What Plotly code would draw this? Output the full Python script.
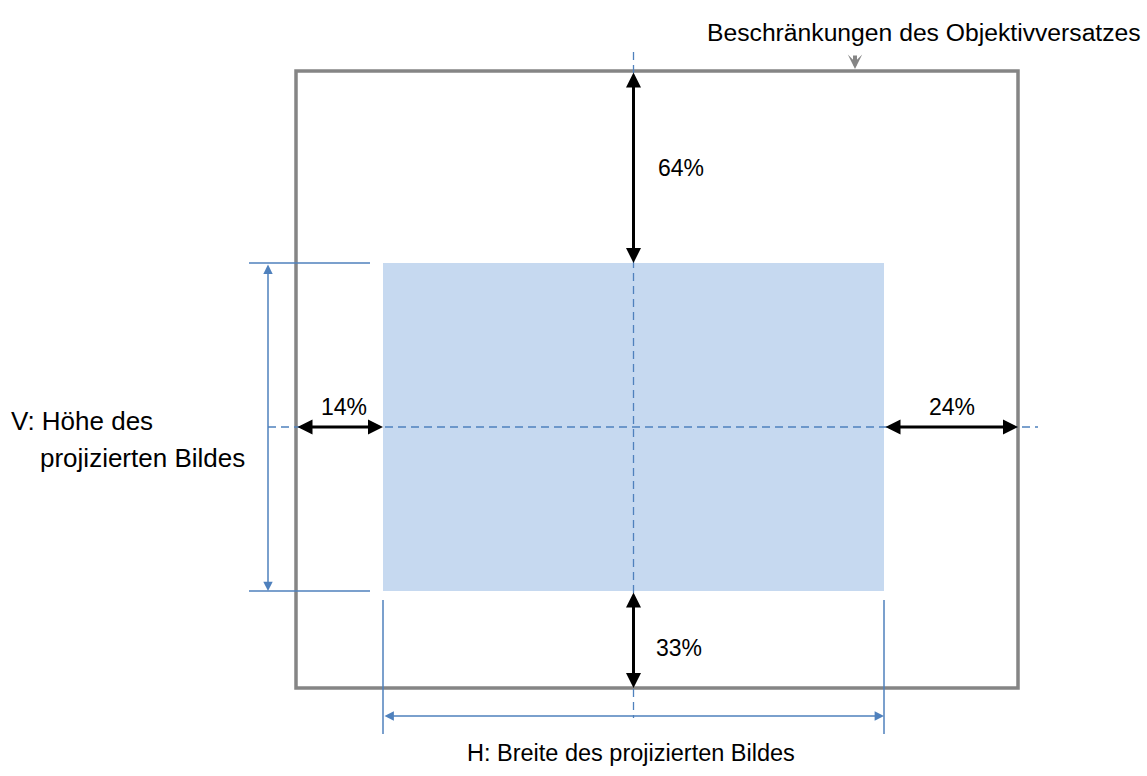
import plotly.graph_objects as go

# ---- diagram data (schematic units = canvas units) ----
shift_labels = ["64%", "14%", "24%", "33%"]          # up, left, right, down
shift_names = ["up", "left", "right", "down"]
image_box = {"x0": 383, "x1": 884, "y0": 263, "y1": 591}     # projected image
frame_box = {"x0": 296, "x1": 1018, "y0": 71, "y1": 688}     # lens shift limits
title_text = "Beschränkungen des Objektivversatzes"
v_label = ["V: Höhe des", "projizierten Bildes"]
h_label = "H: Breite des projizierten Bildes"

W, H = 1147, 776
BLUE = "#4F81BD"
FILL = "#C6D9F0"
GRAY = "#858585"
FAM = "Liberation Sans, Arial, sans-serif"

def font(sz):
    return dict(family=FAM, size=sz, color="#000000")

cx = (image_box["x0"] + image_box["x1"]) / 2
cy = (image_box["y0"] + image_box["y1"]) / 2

fig = go.Figure()
shapes = []
ann = []

# projected image
shapes.append(dict(type="rect", xref="x", yref="y", x0=image_box["x0"], x1=image_box["x1"],
                   y0=image_box["y0"], y1=image_box["y1"], fillcolor=FILL,
                   line=dict(width=0), layer="below"))
# frame
shapes.append(dict(type="rect", xref="x", yref="y", x0=frame_box["x0"], x1=frame_box["x1"],
                   y0=frame_box["y0"], y1=frame_box["y1"], fillcolor="rgba(0,0,0,0)",
                   line=dict(color=GRAY, width=3.5)))
# center dashed lines
dash = dict(color=BLUE, width=1.3, dash="8px,5px")
shapes.append(dict(type="line", xref="x", yref="y", x0=cx, x1=cx, y0=frame_box["y0"] - 19,
                   y1=frame_box["y1"] + 30, line=dash))
shapes.append(dict(type="line", xref="x", yref="y", x0=frame_box["x0"] - 28, x1=frame_box["x1"] + 20,
                   y0=cy, y1=cy, line=dash))

# V dimension extension lines
for yv in (image_box["y0"], image_box["y1"]):
    shapes.append(dict(type="line", xref="x", yref="y", x0=249, x1=370, y0=yv, y1=yv,
                       line=dict(color=BLUE, width=1.5)))
# H dimension extension lines
for xv in (image_box["x0"], image_box["x1"]):
    shapes.append(dict(type="line", xref="x", yref="y", x0=xv, x1=xv,
                       y0=image_box["y1"] + 9, y1=image_box["y1"] + 143,
                       line=dict(color=BLUE, width=1.5)))

def darrow(x0, y0, x1, y1, color, width, head, size):
    ann.append(dict(x=x1, y=y1, ax=x0, ay=y0, xref="x", yref="y", axref="x", ayref="y",
                    text="", showarrow=True, arrowside="end+start", arrowhead=head,
                    startarrowhead=head, arrowsize=size, startarrowsize=size,
                    arrowwidth=width, arrowcolor=color, standoff=0, startstandoff=0))

# black shift arrows
darrow(cx, frame_box["y0"], cx, image_box["y0"], "#000000", 3, 2, 1.0)
darrow(cx, image_box["y1"], cx, frame_box["y1"], "#000000", 3, 2, 1.0)
darrow(frame_box["x0"], cy, image_box["x0"], cy, "#000000", 3, 2, 1.0)
darrow(image_box["x1"], cy, frame_box["x1"], cy, "#000000", 3, 2, 1.0)

# blue dimension arrows
darrow(268, image_box["y0"], 268, image_box["y1"], BLUE, 1.5, 2, 1.25)
darrow(image_box["x0"], 716, image_box["x1"], 716, BLUE, 1.5, 2, 1.25)

# gray pointer arrow
ann.append(dict(x=855, y=frame_box["y0"] - 2, ax=855, ay=frame_box["y0"] - 17, xref="x", yref="y",
                axref="x", ayref="y", text="", showarrow=True, arrowhead=3, arrowsize=0.6,
                arrowwidth=4, arrowcolor=GRAY, standoff=0))

# percentage labels
label_pos = {"up": (cx + 47, 168), "left": (344, 407),
             "right": (952, 407), "down": (cx + 45, 648)}
for name, lab in zip(shift_names, shift_labels):
    x, y = label_pos[name]
    ann.append(dict(x=x, y=y, xref="x", yref="y", text=lab, showarrow=False,
                    xanchor="center", yanchor="middle", font=font(23)))

# texts
ann.append(dict(x=1143, y=32, xref="x", yref="y", text=title_text, showarrow=False,
                xanchor="right", yanchor="middle", font=font(24.7)))
ann.append(dict(x=9, y=421, xref="x", yref="y", text=v_label[0], showarrow=False,
                xanchor="left", yanchor="middle", font=font(26)))
ann.append(dict(x=38, y=458, xref="x", yref="y", text=v_label[1], showarrow=False,
                xanchor="left", yanchor="middle", font=font(26)))
ann.append(dict(x=cx - 3, y=753, xref="x", yref="y", text=h_label, showarrow=False,
                xanchor="center", yanchor="middle", font=font(23.5)))

fig.update_layout(
    width=W, height=H, margin=dict(l=0, r=0, t=0, b=0),
    paper_bgcolor="white", plot_bgcolor="white",
    xaxis=dict(range=[0, W], visible=False, fixedrange=True),
    yaxis=dict(range=[H, 0], visible=False, fixedrange=True),
    shapes=shapes, annotations=ann, showlegend=False,
)
fig.write_html("out.html", config={"displayModeBar": False},
               post_script="document.body.style.margin='0';document.body.style.overflow='hidden';")
